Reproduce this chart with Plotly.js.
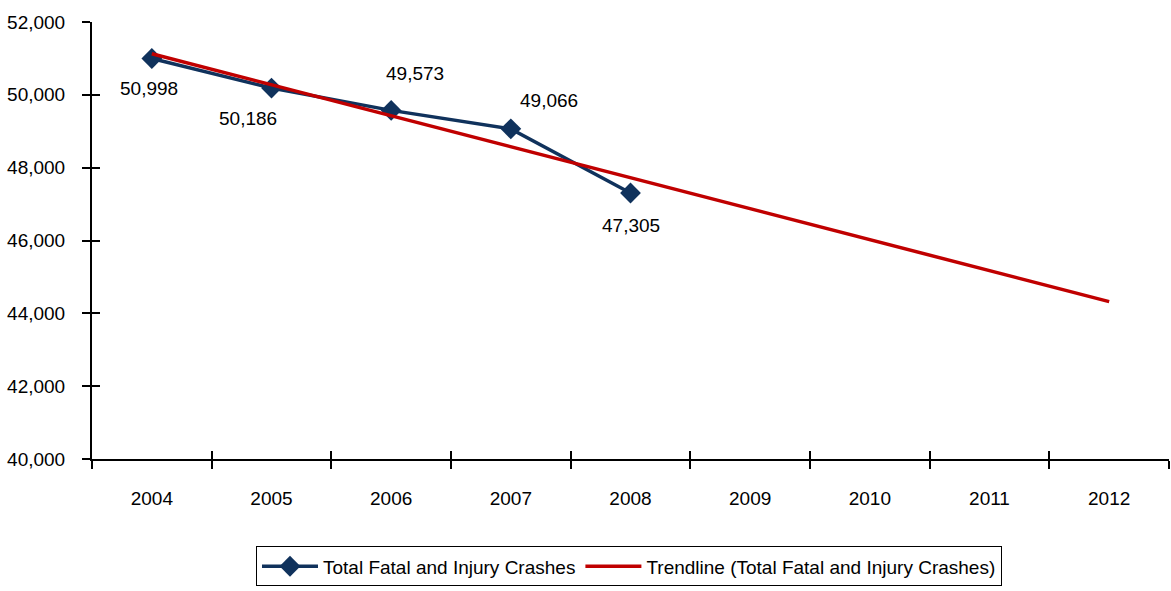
<!DOCTYPE html>
<html>
<head>
<meta charset="utf-8">
<script src="https://cdn.plot.ly/plotly-3.0.1.min.js"></script>
<style>html,body{margin:0;padding:0;background:#fff;}#chart{width:1171px;height:591px;}</style>
</head>
<body>
<div id="chart"></div>
<script>
var years = ["2004","2005","2006","2007","2008","2009","2010","2011","2012"];
var crashYears = ["2004","2005","2006","2007","2008"];
var crashValues = [50998, 50186, 49573, 49066, 47305];
var crashLabels = ["50,998","50,186","49,573","49,066","47,305"];
var trendYears = ["2004","2012"];
var trendValues = [51127, 44322];
var yTickVals = [40000, 42000, 44000, 46000, 48000, 50000, 52000];

var FONT = '"Liberation Sans", Arial, sans-serif';
var NAVY = '#10325C';
var RED = '#C00000';

var labelShiftX = [-3, -24, 24, 38, 0];
var labelShiftY = [-30, -30, 37, 28, -33];

var traces = [
  {
    x: crashYears, y: crashValues, type: 'scatter', mode: 'lines+markers',
    name: 'Total Fatal and Injury Crashes',
    line: {color: NAVY, width: 3.5},
    marker: {symbol: 'diamond', size: 16, color: NAVY},
    xaxis: 'x', yaxis: 'y', hoverinfo: 'x+y'
  },
  {
    x: trendYears, y: trendValues, type: 'scatter', mode: 'lines',
    name: 'Trendline (Total Fatal and Injury Crashes)',
    line: {color: RED, width: 3.5},
    xaxis: 'x2', yaxis: 'y2', hoverinfo: 'x+y'
  }
];

var annotations = crashYears.map(function(yr, i){
  return {
    x: years.indexOf(yr), y: crashValues[i], xref: 'x', yref: 'y',
    text: crashLabels[i], showarrow: false,
    xanchor: 'center', yanchor: 'middle',
    xshift: labelShiftX[i], yshift: labelShiftY[i],
    font: {family: FONT, size: 19, color: '#000'}
  };
});

var axFont = {family: FONT, size: 19, color: '#000'};

var layout = {
  width: 1171, height: 591,
  margin: {l: 92, r: 2, t: 22, b: 132, pad: 0},
  paper_bgcolor: '#fff', plot_bgcolor: '#fff',
  font: axFont,
  showlegend: true,
  legend: {
    orientation: 'h', x: 0.4986, xanchor: 'center', y: -0.2, yanchor: 'top',
    bordercolor: '#000', borderwidth: 1, bgcolor: '#fff',
    font: {family: FONT, size: 19, color: '#000'},
    itemwidth: 56, tracegroupgap: 0
  },
  xaxis: {
    type: 'category', categoryorder: 'array', categoryarray: years,
    range: [-0.5, 8.5], tickmode: 'array', tickvals: years, ticktext: years,
    tickson: 'boundaries', ticks: 'outside', ticklen: 8, tickwidth: 2, tickcolor: '#000',
    showline: true, linecolor: '#000', linewidth: 2, showgrid: false, zeroline: false,
    tickfont: axFont, ticklabelstandoff: 21, fixedrange: true
  },
  yaxis: {
    range: [40000, 52000], tickmode: 'array', tickvals: yTickVals, tickformat: ',d',
    ticks: 'outside', ticklen: 8, tickwidth: 2, tickcolor: '#000',
    showline: true, linecolor: '#000', linewidth: 2, showgrid: false, zeroline: false,
    tickfont: axFont, ticklabelstandoff: 13, fixedrange: true
  },
  xaxis2: {
    type: 'category', categoryorder: 'array', categoryarray: years,
    overlaying: 'x', anchor: 'y2', side: 'bottom',
    range: [-0.5, 8.5], tickmode: 'array', tickvals: years,
    tickson: 'boundaries', ticks: 'inside', ticklen: 8, tickwidth: 2, tickcolor: '#000',
    showticklabels: false, showline: false, showgrid: false, zeroline: false, fixedrange: true
  },
  yaxis2: {
    overlaying: 'y', anchor: 'x2', side: 'left',
    range: [40000, 52000], tickmode: 'array', tickvals: yTickVals,
    ticks: 'inside', ticklen: 8, tickwidth: 2, tickcolor: '#000',
    showticklabels: false, showline: false, showgrid: false, zeroline: false, fixedrange: true
  },
  annotations: annotations
};

Plotly.newPlot('chart', traces, layout, {displayModeBar: false, staticPlot: true});
</script>
</body>
</html>
